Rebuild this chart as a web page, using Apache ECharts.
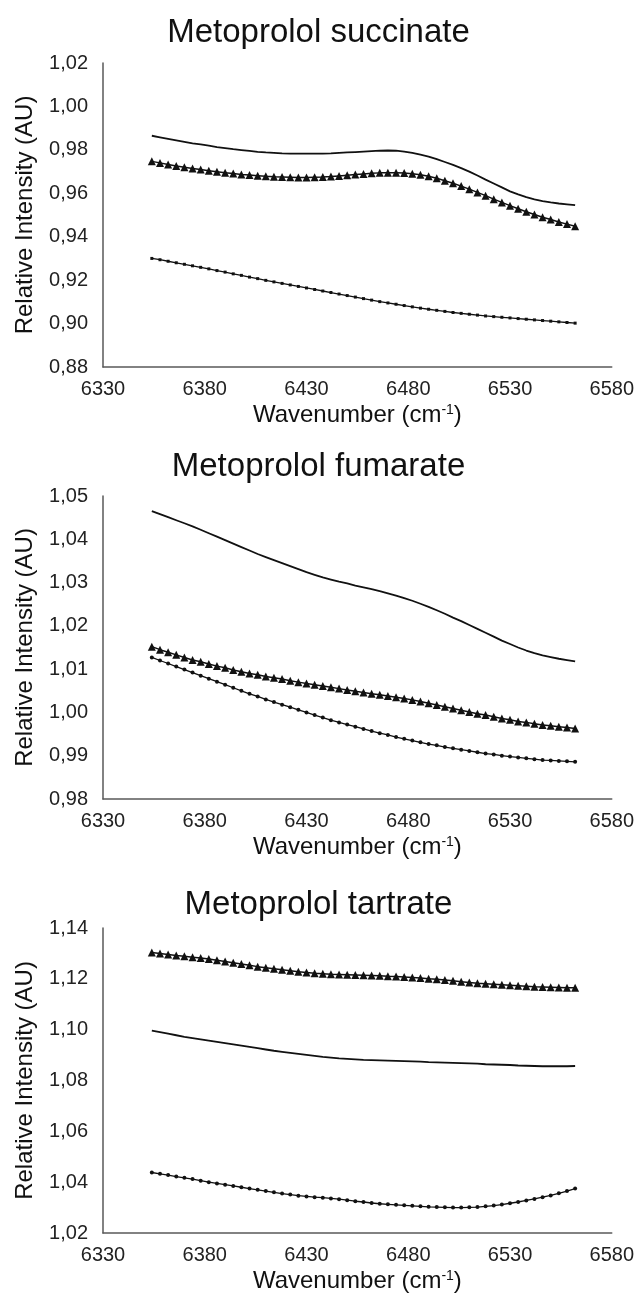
<!DOCTYPE html>
<html>
<head>
<meta charset="utf-8">
<script src="https://cdn.jsdelivr.net/npm/echarts@6/dist/echarts.min.js"></script>
<style>
html,body{margin:0;padding:0;background:#fff;}
#c{width:637px;height:1296px;}
</style>
</head>
<body>
<div id="c"></div>
<script>
// Wavenumber (cm-1) sampling points
const wavenumbers = [6354,6358,6362,6366,6370,6374,6378,6382,6386,6390,6394,6398,6402,6406,6410,6414,6418,6422,6426,6430,6434,6438,6442,6446,6450,6454,6458,6462,6466,6470,6474,6478,6482,6486,6490,6494,6498,6502,6506,6510,6514,6518,6522,6526,6530,6534,6538,6542,6546,6550,6554,6558,6562];

const panelTitles = ['Metoprolol succinate', 'Metoprolol fumarate', 'Metoprolol tartrate'];
const xTicks = [6330, 6580, 50];
const yTicks1 = [0.88, 1.02, 0.02];
const yTicks2 = [0.98, 1.05, 0.01];
const yTicks3 = [1.02, 1.14, 0.02];

// Metoprolol succinate
const succSolid = [0.9865,0.9858,0.9851,0.9844,0.9837,0.9830,0.9825,0.9819,0.9813,0.9808,0.9803,0.9799,0.9795,0.9791,0.9788,0.9786,0.9784,0.9783,0.9783,0.9783,0.9783,0.9783,0.9784,0.9786,0.9788,0.9790,0.9792,0.9794,0.9796,0.9797,0.9796,0.9792,0.9786,0.9778,0.9769,0.9757,0.9744,0.9731,0.9716,0.9700,0.9682,0.9663,0.9645,0.9627,0.9609,0.9595,0.9582,0.9572,0.9564,0.9558,0.9553,0.9549,0.9545];
const succTri = [0.9747,0.9740,0.9733,0.9726,0.9720,0.9714,0.9709,0.9704,0.9699,0.9695,0.9691,0.9687,0.9684,0.9681,0.9678,0.9676,0.9675,0.9674,0.9673,0.9673,0.9674,0.9675,0.9677,0.9680,0.9683,0.9686,0.9689,0.9692,0.9694,0.9695,0.9695,0.9693,0.9690,0.9685,0.9678,0.9669,0.9658,0.9646,0.9633,0.9619,0.9604,0.9589,0.9573,0.9558,0.9543,0.9529,0.9515,0.9502,0.9490,0.9479,0.9468,0.9458,0.9448];
const succDot = [0.9300,0.9294,0.9287,0.9280,0.9273,0.9266,0.9259,0.9252,0.9244,0.9237,0.9229,0.9222,0.9214,0.9207,0.9199,0.9192,0.9185,0.9178,0.9171,0.9164,0.9157,0.9150,0.9143,0.9136,0.9129,0.9122,0.9115,0.9108,0.9101,0.9095,0.9089,0.9083,0.9077,0.9071,0.9066,0.9061,0.9056,0.9051,0.9047,0.9043,0.9039,0.9035,0.9032,0.9029,0.9026,0.9023,0.9020,0.9017,0.9014,0.9011,0.9008,0.9005,0.9002];

// Metoprolol fumarate
const fumSolid = [1.0465,1.0458,1.0451,1.0444,1.0437,1.0430,1.0422,1.0414,1.0406,1.0398,1.0390,1.0382,1.0374,1.0366,1.0359,1.0352,1.0345,1.0338,1.0331,1.0324,1.0318,1.0312,1.0307,1.0302,1.0298,1.0293,1.0289,1.0285,1.0280,1.0275,1.0270,1.0264,1.0258,1.0251,1.0244,1.0236,1.0228,1.0219,1.0211,1.0202,1.0193,1.0184,1.0175,1.0166,1.0158,1.0150,1.0143,1.0137,1.0132,1.0128,1.0124,1.0121,1.0118];
const fumTri = [1.0152,1.0145,1.0139,1.0133,1.0127,1.0121,1.0117,1.0112,1.0107,1.0103,1.0098,1.0094,1.0090,1.0087,1.0083,1.0080,1.0077,1.0073,1.0070,1.0067,1.0064,1.0061,1.0058,1.0055,1.0052,1.0049,1.0046,1.0043,1.0041,1.0038,1.0035,1.0032,1.0029,1.0025,1.0021,1.0017,1.0013,1.0009,1.0005,1.0001,0.9997,0.9994,0.9990,0.9986,0.9983,0.9979,0.9977,0.9974,0.9971,0.9969,0.9967,0.9965,0.9963];
const fumDot = [1.0127,1.0120,1.0113,1.0106,1.0099,1.0092,1.0085,1.0078,1.0071,1.0064,1.0057,1.0050,1.0043,1.0037,1.0030,1.0024,1.0018,1.0012,1.0006,1.0000,0.9994,0.9988,0.9982,0.9977,0.9972,0.9967,0.9962,0.9957,0.9952,0.9948,0.9943,0.9939,0.9935,0.9931,0.9927,0.9924,0.9920,0.9917,0.9914,0.9911,0.9908,0.9905,0.9903,0.9900,0.9898,0.9896,0.9894,0.9892,0.9890,0.9889,0.9888,0.9887,0.9886];

// Metoprolol tartrate
const tarTri = [1.1304,1.1300,1.1296,1.1292,1.1289,1.1285,1.1282,1.1278,1.1273,1.1268,1.1263,1.1258,1.1253,1.1248,1.1244,1.1240,1.1236,1.1232,1.1228,1.1225,1.1222,1.1220,1.1218,1.1217,1.1216,1.1215,1.1214,1.1213,1.1212,1.1210,1.1209,1.1207,1.1205,1.1203,1.1200,1.1198,1.1195,1.1192,1.1189,1.1186,1.1183,1.1181,1.1179,1.1177,1.1175,1.1173,1.1171,1.1169,1.1168,1.1167,1.1166,1.1165,1.1165];
const tarSolid = [1.0996,1.0990,1.0984,1.0978,1.0972,1.0967,1.0962,1.0957,1.0952,1.0947,1.0942,1.0937,1.0932,1.0927,1.0922,1.0917,1.0913,1.0909,1.0905,1.0901,1.0897,1.0893,1.0890,1.0887,1.0885,1.0883,1.0881,1.0880,1.0879,1.0878,1.0877,1.0876,1.0875,1.0874,1.0872,1.0871,1.0870,1.0869,1.0868,1.0867,1.0866,1.0864,1.0863,1.0862,1.0861,1.0859,1.0858,1.0857,1.0856,1.0856,1.0856,1.0856,1.0857];
const tarDot = [1.0438,1.0433,1.0428,1.0422,1.0417,1.0412,1.0406,1.0400,1.0395,1.0390,1.0385,1.0380,1.0375,1.0370,1.0365,1.0360,1.0355,1.0351,1.0347,1.0344,1.0341,1.0339,1.0336,1.0333,1.0329,1.0325,1.0322,1.0318,1.0315,1.0313,1.0311,1.0309,1.0307,1.0305,1.0303,1.0302,1.0301,1.0300,1.0300,1.0301,1.0302,1.0305,1.0308,1.0312,1.0317,1.0322,1.0328,1.0334,1.0341,1.0348,1.0356,1.0365,1.0375];

const FONT = '"Liberation Sans", Arial, sans-serif';
const INK = '#111';
const AXIS = '#595959';

const pairs = ys => wavenumbers.map((x, i) => [x, ys[i]]);

const grids = [
  {left: 103, right: 24, top: 63, height: 304},
  {left: 103, right: 24, top: 496, height: 303},
  {left: 103, right: 24, top: 928, height: 305}
];
const titleTops = [16, 450, 888];
const yTicks = [yTicks1, yTicks2, yTicks3];

const xAxes = grids.map((g, i) => ({
  type: 'value', gridIndex: i,
  min: xTicks[0], max: xTicks[1], interval: xTicks[2],
  axisLine: {show: true, onZero: false, lineStyle: {color: AXIS, width: 1.5}},
  axisTick: {show: false},
  splitLine: {show: false},
  axisLabel: {color: '#222', fontFamily: FONT, fontSize: 20, margin: 12, showMaxLabel: true, showMinLabel: true,
    formatter: v => String(v)},
  name: 'Wavenumber (cm{sup|-1})',
  nameLocation: 'middle', nameGap: 36,
  nameTextStyle: {
    color: INK, fontFamily: FONT, fontSize: 24,
    rich: {sup: {fontSize: 14, fontFamily: FONT, color: INK, verticalAlign: 'top', lineHeight: 15}}
  }
}));

const yAxes = grids.map((g, i) => ({
  type: 'value', gridIndex: i,
  min: yTicks[i][0], max: yTicks[i][1], interval: yTicks[i][2],
  axisLine: {show: true, lineStyle: {color: AXIS, width: 1.5}},
  axisTick: {show: false},
  splitLine: {show: false},
  axisLabel: {color: '#222', fontFamily: FONT, fontSize: 20, margin: 15,
    formatter: v => v.toFixed(2).replace('.', ',')},
  name: 'Relative Intensity (AU)',
  nameLocation: 'middle', nameGap: 66,
  nameTextStyle: {color: INK, fontFamily: FONT, fontSize: 24}
}));

function solid(idx, data) {
  return {type: 'line', xAxisIndex: idx, yAxisIndex: idx, data: pairs(data),
    showSymbol: false, symbol: 'none', smooth: false,
    lineStyle: {color: INK, width: 1.8}, silent: true, animation: false};
}
function tri(idx, data) {
  return {type: 'line', xAxisIndex: idx, yAxisIndex: idx, data: pairs(data),
    symbol: 'triangle', symbolSize: 8, showSymbol: true,
    itemStyle: {color: INK}, lineStyle: {color: INK, width: 1.5}, silent: true, animation: false};
}
function dot(idx, data, sym, size) {
  return {type: 'line', xAxisIndex: idx, yAxisIndex: idx, data: pairs(data),
    symbol: sym, symbolSize: size, showSymbol: true,
    itemStyle: {color: INK}, lineStyle: {color: INK, width: 1.3}, silent: true, animation: false};
}

const chart = echarts.init(document.getElementById('c'), null, {renderer: 'canvas'});
chart.setOption({
  backgroundColor: '#fff',
  animation: false,
  title: panelTitles.map((t, i) => ({
    text: t, left: 'center', top: titleTops[i], padding: 0,
    textStyle: {color: INK, fontFamily: FONT, fontSize: 33, fontWeight: 'normal'}
  })),
  grid: grids,
  xAxis: xAxes,
  yAxis: yAxes,
  series: [
    solid(0, succSolid), tri(0, succTri), dot(0, succDot, 'rect', 3),
    solid(1, fumSolid), tri(1, fumTri), dot(1, fumDot, 'circle', 4),
    tri(2, tarTri), solid(2, tarSolid), dot(2, tarDot, 'circle', 4)
  ]
});
</script>
</body>
</html>
